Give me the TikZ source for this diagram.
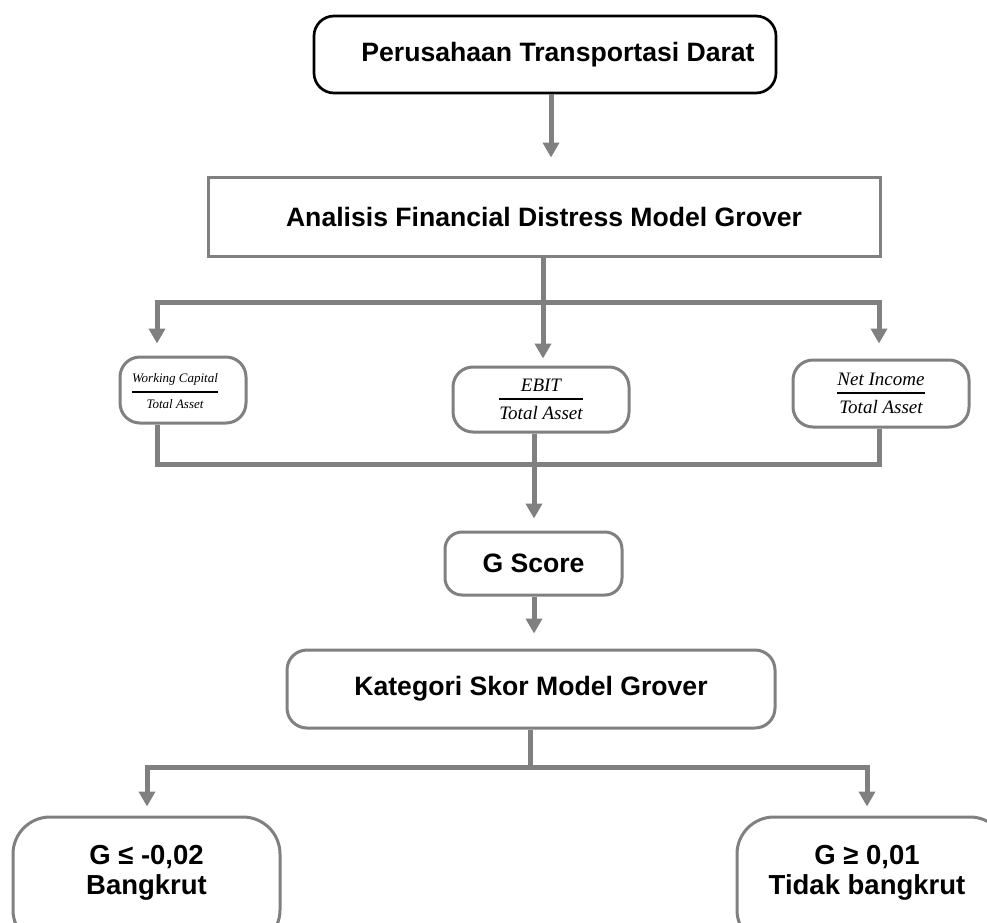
\documentclass[tikz,border=0pt]{standalone}
\usepackage{amsmath}
\usepackage{fontspec}
\setmainfont{Liberation Sans}
\newfontfamily\ratiofont{Liberation Serif}
\usetikzlibrary{arrows.meta,calc}

\definecolor{linegray}{RGB}{128,128,128}

% ratio written as a fraction with a heavy bar
\newcommand{\ratiofrac}[2]{$\genfrac{}{}{2pt}{0}{\text{\ratiofont\itshape #1}}{\text{\ratiofont\itshape #2}}$}

\tikzset{
  conn/.style={draw=linegray, line width=5pt},
  arr/.style={conn, -{Triangle[width=16pt,length=15pt]}},
  boxfont/.style={font=\fontsize{26.6}{31}\selectfont\bfseries},
  titlebox/.style={draw=black, line width=2.7pt, rounded corners=20pt,
    boxfont, inner sep=0pt},
  plainbox/.style={draw=linegray, line width=3pt, boxfont, inner sep=0pt},
  softbox/.style={draw=linegray, line width=3pt, rounded corners=20pt,
    boxfont, inner sep=0pt, fill=white},
  ratiobox/.style={draw=linegray, line width=3pt, rounded corners=20pt,
    inner sep=0pt, fill=white},
  endbox/.style={draw=linegray, line width=3pt, rounded corners=37pt,
    inner sep=0pt, fill=white},
  endtext/.style={font=\fontsize{27.5}{30}\selectfont\bfseries, align=center},
}

\begin{document}
\begin{tikzpicture}[x=1pt, y=-1pt]
\clip (0,0) rectangle (987,922);
\fill[white] (0,0) rectangle (987,922);

% boxes
\node[titlebox, minimum width=462pt, minimum height=77pt] (top) at (545,54.5)
  {\hspace*{26pt}Perusahaan Transportasi Darat};
\node[plainbox, minimum width=672pt, minimum height=79pt] (analisis) at (544,216.5)
  {Analisis Financial Distress Model Grover};

\node[ratiobox, minimum width=126pt, minimum height=66pt] (wc) at (183,390) {};
\node (wctext) at (175,391)
  {\fontsize{13}{15}\selectfont\ratiofrac{Working Capital}{Total Asset}};
\node[ratiobox, minimum width=176pt, minimum height=65pt] (ebit) at (541,399.5)
  {\fontsize{19}{21}\selectfont\ratiofrac{EBIT}{Total Asset}};
\node[ratiobox, minimum width=176pt, minimum height=67pt] (ni) at (881,393.5)
  {\fontsize{19}{21}\selectfont\ratiofrac{Net Income}{Total Asset}};

\node[softbox, rounded corners=17pt, minimum width=177pt, minimum height=63pt] (gscore) at (533.5,563.5)
  {G Score};
\node[softbox, minimum width=488pt, minimum height=78pt] (kategori) at (531,689)
  {Kategori Skor Model Grover};

\node[endbox, minimum width=267pt, minimum height=130pt] (bangkrut) at (146.5,882) {};
\node[endtext] (bangkruttext) at (146.5,872.5) {G ≤ -0,02\\Bangkrut};
\node[endbox, minimum width=270pt, minimum height=130pt] (sehat) at (872,882) {};
\node[endtext] (sehattext) at (867,872.5) {G ≥ 0,01\\Tidak bangkrut};

% junction points
\coordinate (split) at (543,302);
\coordinate (splitL) at (157,302);
\coordinate (splitR) at (879,302);
\coordinate (joinL) at (157,464);
\coordinate (joinR) at (879,464);
\coordinate (joinM) at (534,464);
\coordinate (fanM) at (530,767);
\coordinate (fanL) at (147,767);
\coordinate (fanR) at (867,767);

% connectors
\draw[arr, shorten >=18pt] ([xshift=6pt]top.south) -- ([xshift=6pt]top.south |- analisis.north);
\draw[arr, shorten >=7pt] (analisis.south -| split) -- (ebit.north -| split);
\draw[conn] ([xshift=-2.5pt]splitL) -- ([xshift=2.5pt]splitR);
\draw[arr, shorten >=12pt] ([yshift=-2.5pt]splitL) -- (splitL |- wc.north);
\draw[arr, shorten >=15pt] ([yshift=-2.5pt]splitR) -- (splitR |- ni.north);

\draw[conn, line join=miter] (wc.south -| joinL) -- (joinL) -- (joinR) -- (ni.south -| joinR);
\draw[arr, shorten >=12pt] (ebit.south -| joinM) -- (gscore.north -| joinM);
\draw[arr, shorten >=15pt] (gscore.south -| joinM) -- (kategori.north -| joinM);

\draw[conn] (kategori.south -| fanM) -- (fanM);
\draw[arr, line join=miter, shorten >=9pt] (fanM) -- (fanL) -- (fanL |- bangkrut.north);
\draw[arr, line join=miter, shorten >=9pt] (fanM) -- (fanR) -- (fanR |- sehat.north);
\end{tikzpicture}
\end{document}
